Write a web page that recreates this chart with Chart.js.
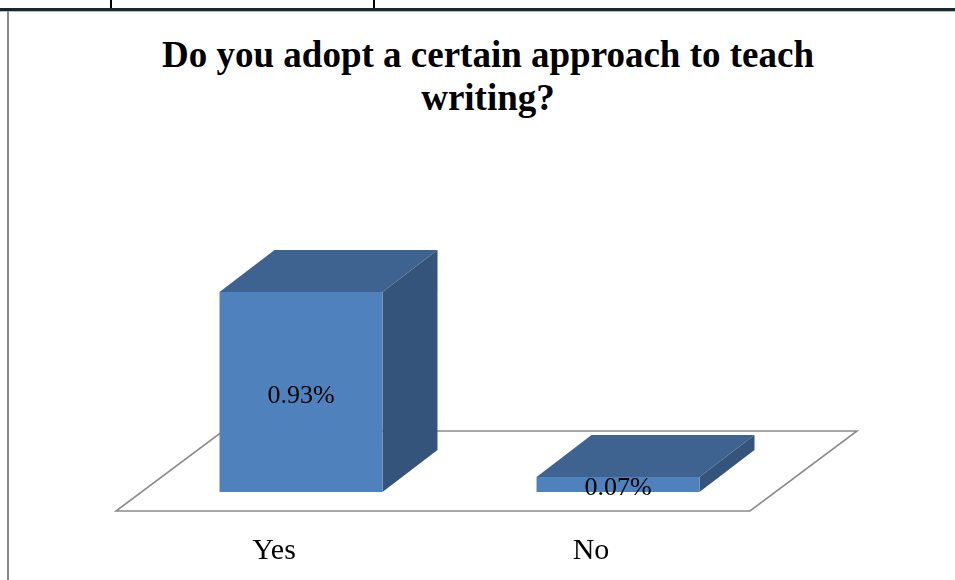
<!DOCTYPE html>
<html>
<head>
<meta charset="utf-8">
<script src="https://cdn.jsdelivr.net/npm/chart.js@4"></script>
<style>
  body { margin: 0; background: #fff; }
  #wrap { position: relative; width: 955px; height: 580px; overflow: hidden; }
  .rule { position: absolute; }
  #title {
    position: absolute; left: 88px; width: 800px; top: 33px;
    text-align: center; font: bold 37px "Liberation Serif", serif; line-height: 43px; color: #000;
  }
  canvas { position: absolute; left: 0; top: 0; }
</style>
</head>
<body>
<div id="wrap">
  <div class="rule" style="left:0;top:8px;width:955px;height:3px;background:#17282f"></div>
  <div class="rule" style="left:0;top:11px;width:955px;height:1px;background:#b9bcbe"></div>
  <div class="rule" style="left:110px;top:0;width:2px;height:8px;background:#000"></div>
  <div class="rule" style="left:373px;top:0;width:2px;height:8px;background:#000"></div>
  <div class="rule" style="left:7px;top:11px;width:2px;height:569px;background:#8a8a8a"></div>
  <div id="title">Do you adopt a certain approach to teach<br>writing?</div>
  <canvas id="chart" width="955" height="580"></canvas>
</div>
<script>
const categories = ['Yes', 'No'];
const shares = [0.93, 0.07];
const shareLabels = ['0.93%', '0.07%'];

// pseudo 3D: top and side faces of the bars plus the floor
const box3d = {
  id: 'box3d',
  beforeDatasetsDraw(chart) {
    const ctx = chart.ctx;
    const a = chart.chartArea;
    const fx = a.left - 26.5, fx2 = a.right - 26.5, fy = a.bottom + 19;
    ctx.save();
    ctx.beginPath();
    ctx.moveTo(fx, fy);
    ctx.lineTo(fx2, fy);
    ctx.lineTo(fx2 + 107, fy - 80);
    ctx.lineTo(fx + 107, fy - 80);
    ctx.closePath();
    ctx.strokeStyle = '#8c8c8c';
    ctx.lineWidth = 1.6;
    ctx.stroke();

    const dx = 55, dy = -42;
    chart.getDatasetMeta(0).data.forEach(bar => {
      const p = bar.getProps(['x', 'y', 'base', 'width'], true);
      const l = p.x - p.width / 2, r = p.x + p.width / 2;
      ctx.fillStyle = '#3e6391';
      ctx.beginPath();
      ctx.moveTo(l, p.y);
      ctx.lineTo(r, p.y);
      ctx.lineTo(r + dx, p.y + dy);
      ctx.lineTo(l + dx, p.y + dy);
      ctx.closePath();
      ctx.fill();
      ctx.fillStyle = '#34547b';
      ctx.beginPath();
      ctx.moveTo(r, p.y);
      ctx.lineTo(r + dx, p.y + dy);
      ctx.lineTo(r + dx, p.base + dy);
      ctx.lineTo(r, p.base);
      ctx.closePath();
      ctx.fill();
    });
    ctx.restore();
  },
  afterDatasetsDraw(chart) {
    const ctx = chart.ctx;
    ctx.save();
    ctx.font = '26px "Liberation Serif"';
    ctx.fillStyle = '#000';
    ctx.textAlign = 'center';
    ctx.textBaseline = 'middle';
    chart.getDatasetMeta(0).data.forEach((bar, i) => {
      const p = bar.getProps(['x', 'y', 'base'], true);
      ctx.fillText(shareLabels[i], p.x, (p.y + p.base) / 2 + 4);
    });
    ctx.restore();
  }
};

new Chart(document.getElementById('chart'), {
  type: 'bar',
  data: {
    labels: categories,
    datasets: [{
      data: shares,
      backgroundColor: '#4f81bd',
      borderWidth: 0,
      barPercentage: 0.514,
      categoryPercentage: 1
    }]
  },
  options: {
    responsive: false,
    animation: false,
    layout: { padding: { left: 142.5, right: 178.5, top: 277, bottom: 0 } },
    plugins: { legend: { display: false }, tooltip: { enabled: false } },
    scales: {
      x: {
        grid: { display: false, drawTicks: false },
        border: { display: false },
        ticks: {
          padding: 41,
          labelOffset: -27,
          color: '#000',
          font: { family: 'Liberation Serif', size: 30 }
        },
        afterFit(scale) { scale.height = 88; }
      },
      y: { display: false, min: 0, max: 1 }
    }
  },
  plugins: [box3d]
});
</script>
</body>
</html>
